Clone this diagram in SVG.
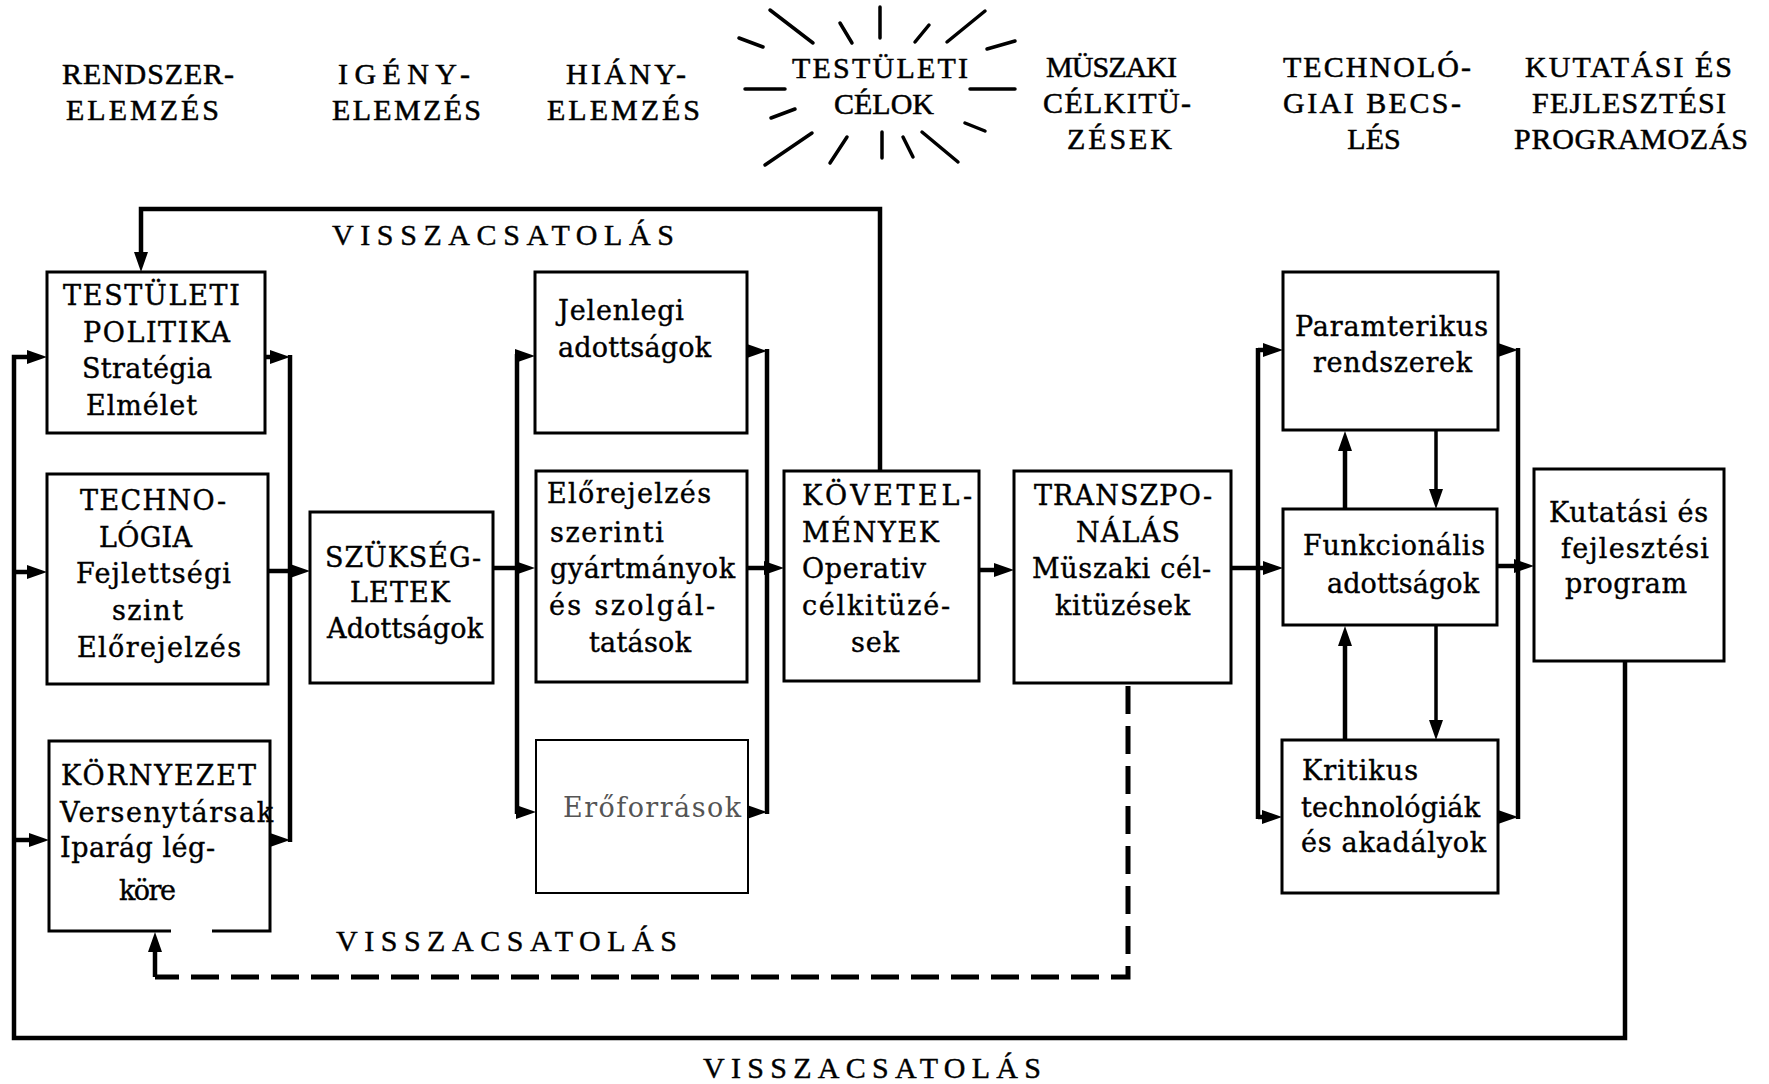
<svg xmlns="http://www.w3.org/2000/svg" width="1769" height="1084" viewBox="0 0 1769 1084">
<defs>
<style>
.box{fill:none;stroke:#000;stroke-width:3;stroke-linejoin:miter}
.thin{stroke-width:2}
.t{font-family:"DejaVu Serif","Liberation Serif",serif;font-size:27px;fill:#000;stroke:#000;stroke-width:0.4}
.h{font-family:"Liberation Serif","DejaVu Serif",serif;font-size:30px;fill:#000;stroke:#000;stroke-width:0.5}
.fb{font-family:"Liberation Serif","DejaVu Serif",serif;font-size:30px;fill:#000;stroke:#000;stroke-width:0.4}
.grey{fill:#555;stroke:none}
.c{fill:none;stroke:#000;stroke-width:4.5;stroke-linejoin:miter}
.a{marker-end:url(#ah)}
.dash{stroke-dasharray:28 12;stroke-width:5}
.ray{stroke:#000;stroke-width:3.5;stroke-linecap:round}
</style>
<marker id="ah" viewBox="0 0 20 14" refX="11" refY="7" markerWidth="20" markerHeight="14" markerUnits="userSpaceOnUse" orient="auto">
<path d="M0,0 L20,7 L0,14 z" fill="#000"/>
</marker>
</defs>
<rect width="1769" height="1084" fill="#fff"/>

<g id="headers">
<text class="h" x="62" y="84" textLength="172" lengthAdjust="spacing">RENDSZER-</text>
<text class="h" x="66" y="120" textLength="153" lengthAdjust="spacing">ELEMZÉS</text>
<text class="h" x="338" y="84" textLength="132" lengthAdjust="spacing">IGÉNY-</text>
<text class="h" x="332" y="120" textLength="149" lengthAdjust="spacing">ELEMZÉS</text>
<text class="h" x="566" y="84" textLength="120" lengthAdjust="spacing">HIÁNY-</text>
<text class="h" x="547" y="120" textLength="153" lengthAdjust="spacing">ELEMZÉS</text>
<text class="h" x="1046" y="77" textLength="131" lengthAdjust="spacing">MÜSZAKI</text>
<text class="h" x="1043" y="113" textLength="148" lengthAdjust="spacing">CÉLKITÜ-</text>
<text class="h" x="1067" y="149" textLength="105" lengthAdjust="spacing">ZÉSEK</text>
<text class="h" x="1283" y="77" textLength="188" lengthAdjust="spacing">TECHNOLÓ-</text>
<text class="h" x="1283" y="113" textLength="178" lengthAdjust="spacing">GIAI BECS-</text>
<text class="h" x="1374" y="149" text-anchor="middle">LÉS</text>
<text class="h" x="1525" y="77" textLength="207" lengthAdjust="spacing">KUTATÁSI ÉS</text>
<text class="h" x="1532" y="113" textLength="194" lengthAdjust="spacing">FEJLESZTÉSI</text>
<text class="h" x="1514" y="149" textLength="234" lengthAdjust="spacing">PROGRAMOZÁS</text>
</g>

<g id="n-testuleti-celok">
<line class="ray" x1="770" y1="10" x2="813" y2="43"/>
<line class="ray" x1="840" y1="23" x2="852" y2="43"/>
<line class="ray" x1="880" y1="7" x2="880" y2="38"/>
<line class="ray" x1="915" y1="42" x2="929" y2="25"/>
<line class="ray" x1="947" y1="42" x2="985" y2="11"/>
<line class="ray" x1="987" y1="49" x2="1015" y2="41"/>
<line class="ray" x1="970" y1="89" x2="1015" y2="89"/>
<line class="ray" x1="965" y1="123" x2="985" y2="131"/>
<line class="ray" x1="922" y1="132" x2="958" y2="162"/>
<line class="ray" x1="903" y1="137" x2="913" y2="157"/>
<line class="ray" x1="882" y1="132" x2="882" y2="158"/>
<line class="ray" x1="847" y1="137" x2="830" y2="163"/>
<line class="ray" x1="812" y1="133" x2="765" y2="165"/>
<line class="ray" x1="795" y1="109" x2="771" y2="118"/>
<line class="ray" x1="745" y1="89" x2="785" y2="89"/>
<line class="ray" x1="739" y1="38" x2="763" y2="47"/>
<text class="h" x="792" y="78" textLength="176" lengthAdjust="spacing">TESTÜLETI</text>
<text class="h" x="884" y="114" text-anchor="middle">CÉLOK</text>
</g>

<g id="connectors">
<path class="c a" d="M1625,661 V1038 H14 V357 H38"/>
<path class="c a" d="M14,572 H38"/>
<path class="c a" d="M14,840 H40"/>
<path class="c a" d="M880,471 V209 H141 V263"/>
<path class="c" d="M290,355 V842"/>
<path class="c a" d="M265,357 H281"/>
<path class="c a" d="M270,840 H281"/>
<path class="c a" d="M268,571 H301"/>
<path class="c a" d="M493,568 H526"/>
<path class="c" d="M517,354 V814"/>
<path class="c a" d="M517,356 H526"/>
<path class="c a" d="M517,812 H527"/>
<path class="c" d="M767,349 V814"/>
<path class="c a" d="M747,351 H758"/>
<path class="c a" d="M748,812 H758"/>
<path class="c a" d="M747,568 H775"/>
<path class="c a" d="M979,570 H1005"/>
<path class="c a" d="M1231,568 H1274"/>
<path class="c" d="M1258,348 V819"/>
<path class="c a" d="M1258,350 H1274"/>
<path class="c a" d="M1258,817 H1273"/>
<path class="c" d="M1518,348 V819"/>
<path class="c a" d="M1498,350 H1509"/>
<path class="c a" d="M1498,817 H1509"/>
<path class="c a" d="M1497,566 H1525"/>
<path class="c a" d="M1345,509 V440"/>
<path class="c a" d="M1436,431 V500" style="stroke-width:3.5"/>
<path class="c a" d="M1345,740 V635"/>
<path class="c a" d="M1436,626 V731" style="stroke-width:3.5"/>
<path class="c dash" d="M1128,686 V977 H155"/>
<path class="c a" d="M155,977 V941"/>
</g>

<g id="feedback-labels">
<text class="fb" x="332" y="245" textLength="342" lengthAdjust="spacing">VISSZACSATOLÁS</text>
<text class="fb" x="336" y="951" textLength="341" lengthAdjust="spacing">VISSZACSATOLÁS</text>
<text class="fb" x="703" y="1078" textLength="338" lengthAdjust="spacing">VISSZACSATOLÁS</text>
</g>

<g id="n-testuleti-politika">
<rect class="box" x="47" y="272" width="218" height="161"/>
<text class="t" x="63" y="305" textLength="177" lengthAdjust="spacing">TESTÜLETI</text>
<text class="t" x="83" y="342" textLength="147" lengthAdjust="spacing">POLITIKA</text>
<text class="t" x="82" y="378" textLength="130" lengthAdjust="spacing">Stratégia</text>
<text class="t" x="86" y="415" textLength="111" lengthAdjust="spacing">Elmélet</text>
</g>

<g id="n-technologia">
<rect class="box" x="47" y="474" width="221" height="210"/>
<text class="t" x="80" y="510" textLength="146" lengthAdjust="spacing">TECHNO-</text>
<text class="t" x="99" y="547" textLength="93" lengthAdjust="spacing">LÓGIA</text>
<text class="t" x="76" y="583" textLength="155" lengthAdjust="spacing">Fejlettségi</text>
<text class="t" x="112" y="620" textLength="71" lengthAdjust="spacing">szint</text>
<text class="t" x="77" y="657" textLength="164" lengthAdjust="spacing">Előrejelzés</text>
</g>

<g id="n-kornyezet">
<path class="box" d="M212,931 H270 V741 H49 V931 H171"/>
<text class="t" x="61" y="785" textLength="195" lengthAdjust="spacing">KÖRNYEZET</text>
<text class="t" x="60" y="822" textLength="213" lengthAdjust="spacing">Versenytársak</text>
<text class="t" x="60" y="857" textLength="155" lengthAdjust="spacing">Iparág lég-</text>
<text class="t" x="119" y="900" textLength="57" lengthAdjust="spacing">köre</text>
</g>

<g id="n-szuksegletek">
<rect class="box" x="310" y="512" width="183" height="171"/>
<text class="t" x="325" y="567" textLength="156" lengthAdjust="spacing">SZÜKSÉG-</text>
<text class="t" x="350" y="602" textLength="100" lengthAdjust="spacing">LETEK</text>
<text class="t" x="327" y="638" textLength="156" lengthAdjust="spacing">Adottságok</text>
</g>

<g id="n-jelenlegi">
<rect class="box" x="535" y="272" width="212" height="161"/>
<text class="t" x="558" y="320" textLength="126" lengthAdjust="spacing">Jelenlegi</text>
<text class="t" x="558" y="357" textLength="153" lengthAdjust="spacing">adottságok</text>
</g>

<g id="n-elorejelzes">
<rect class="box" x="536" y="471" width="211" height="211"/>
<text class="t" x="547" y="503" textLength="164" lengthAdjust="spacing">Előrejelzés</text>
<text class="t" x="550" y="542" textLength="114" lengthAdjust="spacing">szerinti</text>
<text class="t" x="550" y="578" textLength="185" lengthAdjust="spacing">gyártmányok</text>
<text class="t" x="549" y="615" textLength="166" lengthAdjust="spacing">és szolgál-</text>
<text class="t" x="589" y="652" textLength="102" lengthAdjust="spacing">tatások</text>
</g>

<g id="n-eroforrasok">
<rect class="box thin" x="536" y="740" width="212" height="153"/>
<text class="t grey" x="563" y="817" textLength="178" lengthAdjust="spacing">Erőforrások</text>
</g>

<g id="n-kovetelmenyek">
<rect class="box" x="784" y="471" width="195" height="210"/>
<text class="t" x="802" y="505" textLength="170" lengthAdjust="spacing">KÖVETEL-</text>
<text class="t" x="802" y="542" textLength="137" lengthAdjust="spacing">MÉNYEK</text>
<text class="t" x="802" y="578" textLength="124" lengthAdjust="spacing">Operativ</text>
<text class="t" x="802" y="615" textLength="148" lengthAdjust="spacing">célkitüzé-</text>
<text class="t" x="851" y="652" textLength="48" lengthAdjust="spacing">sek</text>
</g>

<g id="n-transzponalas">
<rect class="box" x="1014" y="471" width="217" height="212"/>
<text class="t" x="1034" y="505" textLength="178" lengthAdjust="spacing">TRANSZPO-</text>
<text class="t" x="1076" y="542" textLength="104" lengthAdjust="spacing">NÁLÁS</text>
<text class="t" x="1032" y="578" textLength="179" lengthAdjust="spacing">Müszaki cél-</text>
<text class="t" x="1055" y="615" textLength="135" lengthAdjust="spacing">kitüzések</text>
</g>

<g id="n-paramterikus">
<rect class="box" x="1283" y="272" width="215" height="158"/>
<text class="t" x="1295" y="336" textLength="193" lengthAdjust="spacing">Paramterikus</text>
<text class="t" x="1313" y="372" textLength="159" lengthAdjust="spacing">rendszerek</text>
</g>

<g id="n-funkcionalis">
<rect class="box" x="1283" y="509" width="214" height="116"/>
<text class="t" x="1303" y="555" textLength="182" lengthAdjust="spacing">Funkcionális</text>
<text class="t" x="1327" y="593" textLength="152" lengthAdjust="spacing">adottságok</text>
</g>

<g id="n-kritikus">
<rect class="box" x="1282" y="740" width="216" height="153"/>
<text class="t" x="1302" y="780" textLength="116" lengthAdjust="spacing">Kritikus</text>
<text class="t" x="1301" y="817" textLength="179" lengthAdjust="spacing">technológiák</text>
<text class="t" x="1301" y="852" textLength="185" lengthAdjust="spacing">és akadályok</text>
</g>

<g id="n-kutatasi">
<rect class="box" x="1534" y="469" width="190" height="192"/>
<text class="t" x="1549" y="522" textLength="159" lengthAdjust="spacing">Kutatási és</text>
<text class="t" x="1561" y="558" textLength="148" lengthAdjust="spacing">fejlesztési</text>
<text class="t" x="1565" y="593" textLength="122" lengthAdjust="spacing">program</text>
</g>
</svg>
